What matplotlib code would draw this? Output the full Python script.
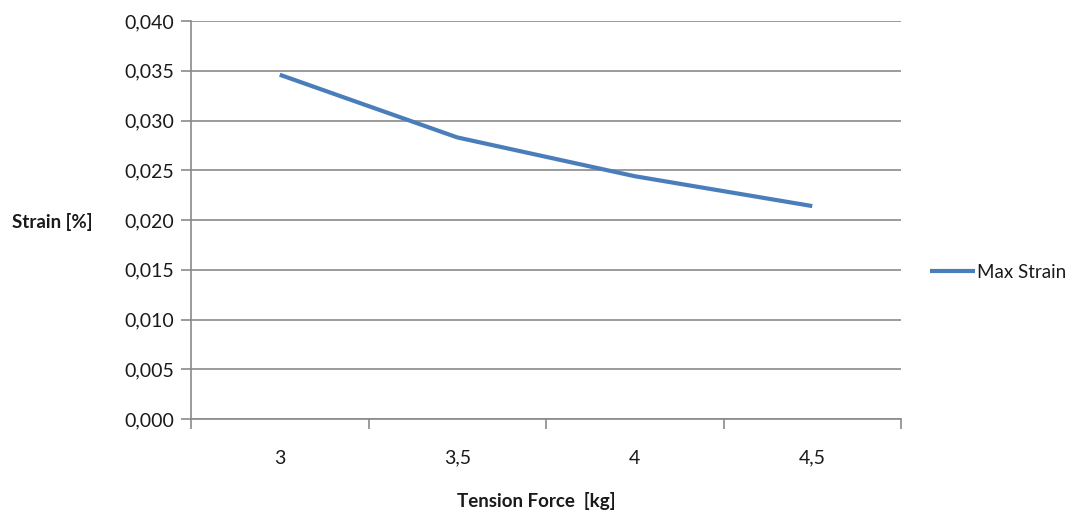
import matplotlib.pyplot as plt
from matplotlib.ticker import FixedLocator, FuncFormatter

# Tension force categories and max strain values
force_labels = ['3', '3,5', '4', '4,5']
max_strain = [0.0346, 0.0283, 0.0244, 0.0214]
y_ticks = [0.000, 0.005, 0.010, 0.015, 0.020, 0.025, 0.030, 0.035, 0.040]

plt.rcParams['font.family'] = ['Lato', 'DejaVu Sans']
text_col = '#1a1a1a'
grid_col = '#8a8a8a'

fig = plt.figure(figsize=(10.74, 5.16), dpi=100)
ax = fig.add_axes([191 / 1074, 1 - 419 / 516, 710 / 1074, 398 / 516])

x = list(range(len(force_labels)))
ax.plot(x, max_strain, color='#4a7ebb', linewidth=3.0, solid_capstyle='butt',
        label='Max Strain', zorder=3)

ax.set_xlim(-0.5, len(force_labels) - 0.5)
ax.set_ylim(0, 0.040)
ax.set_yticks(y_ticks)
ax.yaxis.set_major_formatter(FuncFormatter(lambda v, p: f'{v:.3f}'.replace('.', ',')))
ax.grid(axis='y', color=grid_col, linewidth=1.2)
ax.set_axisbelow(True)

ax.set_xticks(x)
ax.set_xticklabels(force_labels)
ax.xaxis.set_minor_locator(FixedLocator([i - 0.5 for i in range(len(force_labels) + 1)]))
ax.tick_params(axis='x', which='major', length=0, pad=22, labelsize=14, labelcolor=text_col)
ax.tick_params(axis='x', which='minor', length=7, width=1.2, color=grid_col)
ax.tick_params(axis='y', length=7, width=1.2, color=grid_col, pad=5, labelsize=14,
               labelcolor=text_col)

for s in ['top', 'right']:
    ax.spines[s].set_visible(False)
for s in ['left', 'bottom']:
    ax.spines[s].set_color(grid_col)
    ax.spines[s].set_linewidth(1.2)

fig.text(12 / 1074, 1 - 222 / 516, 'Strain [%]', fontsize=13.5, fontweight='bold',
         color=text_col, va='center', ha='left')
fig.text(536 / 1074, 1 - 501 / 516, 'Tension Force  [kg]', fontsize=13.5, fontweight='bold',
         color=text_col, va='center', ha='center')

ax.legend(loc='center left', bbox_to_anchor=(930 / 1074, 1 - 272 / 516),
          bbox_transform=fig.transFigure, frameon=False, fontsize=13.5,
          handlelength=2.4, handletextpad=0.12, borderpad=0, borderaxespad=0,
          labelcolor=text_col)

fig.savefig('out.png', dpi=100)
